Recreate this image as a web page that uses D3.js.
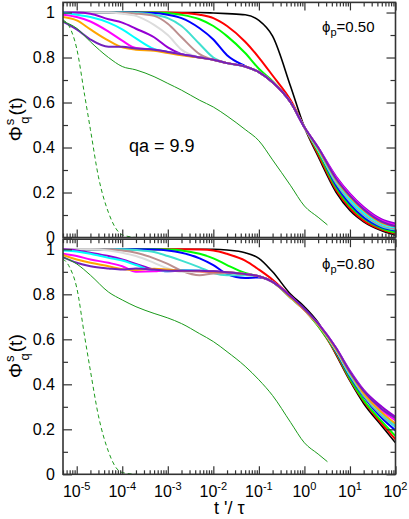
<!DOCTYPE html>
<html>
<head>
<meta charset="utf-8">
<script src="https://cdn.jsdelivr.net/npm/d3@7"></script>
<style>
  body { margin: 0; background: #fff; }
  svg { display: block; font-family: "Liberation Sans", Arial, Helvetica, sans-serif; }
</style>
</head>
<body>
<svg id="chart"></svg>
<script>
// t'/tau grid used by the coloured curves
const times = [5e-6, 1e-5, 2e-5, 5e-5, 1e-4, 2e-4, 5e-4, 1e-3, 2e-3, 5e-3, 1e-2, 2e-2, 5e-2,
               0.1, 0.2, 0.5, 1, 2, 5, 10, 20, 50, 100];
const tGreen = [5e-6, 1e-5, 2e-5, 5e-5, 1e-4, 2e-4, 5e-4, 1e-3, 2e-3, 5e-3, 1e-2, 2e-2, 5e-2,
                0.1, 0.2, 0.5, 1, 2, 3.2];
const tDash = [5e-6, 7e-6, 1e-5, 1.5e-5, 2e-5, 3e-5, 5e-5, 7e-5, 1e-4, 2e-4];

const xMajorTicks = [1e-5, 1e-4, 1e-3, 1e-2, 1e-1, 1, 10, 100];
const xTickExponents = ["-5", "-4", "-3", "-2", "-1", "0", "1", "2"];
const yMajorTicks = [0, 0.2, 0.4, 0.6, 0.8, 1];
const yTickLabels = ["0", "0.2", "0.4", "0.6", "0.8", "1"];
const yMinorTicks = [0.1, 0.3, 0.5, 0.7, 0.9];
const panelLabels = ["0.50", "0.80"];

const colors = ["#000000", "#ff0000", "#00ff00", "#0000ff", "#40e0d0", "#bc8f8f",
                "#dcdcdc", "#9400d3", "#00ffff", "#ff00ff", "#ffa500", "#7221bc"];

// phi_p = 0.50
const p50Black   = [1,1,1,1,1,1,1,1,1,1,0.998,0.995,0.99,0.965,0.895,0.67,0.49,0.36,0.20,0.12,0.07,0.03,0.01];
const p50Red     = [1,1,1,1,1,1,1,1,0.998,0.99,0.975,0.94,0.87,0.80,0.72,0.61,0.49,0.37,0.21,0.13,0.075,0.035,0.016];
const p50Green   = [1,1,1,1,1,1,1,0.998,0.99,0.97,0.94,0.895,0.82,0.75,0.695,0.60,0.49,0.38,0.22,0.14,0.085,0.04,0.022];
const p50Blue    = [1,1,1,1,1,1,0.998,0.99,0.975,0.93,0.88,0.81,0.762,0.735,0.69,0.60,0.49,0.39,0.23,0.15,0.09,0.045,0.03];
const p50Turq    = [1,1,1,1,1,0.998,0.99,0.975,0.94,0.86,0.80,0.775,0.76,0.735,0.69,0.60,0.49,0.39,0.24,0.16,0.10,0.05,0.035];
const p50Brown   = [1,1,1,1,0.998,0.995,0.985,0.95,0.89,0.815,0.79,0.775,0.76,0.735,0.69,0.60,0.49,0.39,0.245,0.165,0.105,0.055,0.04];
const p50Grey    = [1,1,1,1,0.995,0.985,0.945,0.90,0.835,0.80,0.79,0.775,0.76,0.735,0.69,0.60,0.49,0.39,0.25,0.17,0.11,0.06,0.045];
const p50Violet  = [1,1,0.995,0.97,0.955,0.928,0.89,0.845,0.815,0.80,0.79,0.775,0.76,0.735,0.69,0.60,0.49,0.40,0.27,0.195,0.135,0.08,0.062];
const p50Cyan    = [1,0.99,0.98,0.955,0.925,0.885,0.838,0.825,0.815,0.80,0.79,0.775,0.76,0.735,0.69,0.60,0.49,0.39,0.25,0.17,0.11,0.06,0.045];
const p50Magenta = [0.99,0.98,0.96,0.915,0.875,0.842,0.835,0.825,0.815,0.80,0.79,0.775,0.76,0.735,0.69,0.60,0.49,0.40,0.265,0.19,0.13,0.075,0.055];
const p50Orange  = [0.98,0.965,0.925,0.875,0.845,0.835,0.83,0.82,0.81,0.80,0.79,0.775,0.76,0.735,0.69,0.60,0.49,0.395,0.255,0.18,0.12,0.065,0.05];
const p50Indigo  = [0.96,0.925,0.88,0.848,0.848,0.84,0.835,0.825,0.815,0.80,0.79,0.775,0.76,0.735,0.69,0.60,0.49,0.40,0.26,0.185,0.125,0.07,0.05];
const p50Thin    = [0.96,0.93,0.87,0.80,0.76,0.745,0.715,0.685,0.655,0.61,0.58,0.54,0.48,0.43,0.345,0.23,0.14,0.09,0.056];
const p50Dash    = [0.967,0.935,0.84,0.63,0.48,0.27,0.11,0.045,0.012,0];

// phi_p = 0.80
const p80Black   = [1,1,1,1,1,1,1,1,1,1,1,0.997,0.985,0.96,0.90,0.80,0.745,0.675,0.53,0.415,0.315,0.215,0.14];
const p80Red     = [1,1,1,1,1,1,1,1,1,0.999,0.995,0.98,0.95,0.91,0.865,0.79,0.73,0.66,0.535,0.42,0.325,0.225,0.155];
const p80Green   = [1,1,1,1,1,1,1,0.999,0.995,0.98,0.96,0.93,0.895,0.88,0.855,0.785,0.73,0.66,0.54,0.425,0.33,0.235,0.17];
const p80Blue    = [1,1,1,1,1,1,0.999,0.995,0.985,0.96,0.93,0.89,0.873,0.875,0.855,0.785,0.73,0.665,0.545,0.435,0.345,0.25,0.195];
const p80Turq    = [1,1,1,1,1,0.997,0.988,0.97,0.95,0.92,0.895,0.885,0.885,0.88,0.855,0.785,0.73,0.665,0.55,0.44,0.35,0.26,0.21];
const p80Brown   = [1,1,1,1,0.995,0.985,0.96,0.935,0.905,0.885,0.893,0.895,0.89,0.88,0.855,0.785,0.73,0.665,0.55,0.445,0.355,0.265,0.22];
const p80Grey    = [1,1,1,0.995,0.985,0.97,0.94,0.915,0.90,0.90,0.90,0.898,0.89,0.88,0.855,0.785,0.73,0.665,0.55,0.445,0.36,0.27,0.225];
const p80Violet  = [1,0.995,0.985,0.97,0.955,0.935,0.91,0.902,0.905,0.905,0.902,0.898,0.89,0.88,0.855,0.79,0.735,0.67,0.56,0.46,0.375,0.30,0.255];
const p80Cyan    = [0.995,0.99,0.98,0.962,0.95,0.93,0.905,0.903,0.908,0.905,0.90,0.898,0.89,0.88,0.855,0.785,0.73,0.665,0.555,0.445,0.36,0.27,0.22];
const p80Magenta = [0.98,0.97,0.955,0.94,0.925,0.90,0.902,0.908,0.905,0.903,0.90,0.898,0.89,0.88,0.855,0.79,0.73,0.67,0.56,0.455,0.37,0.285,0.24];
const p80Orange  = [0.975,0.955,0.94,0.925,0.912,0.908,0.914,0.91,0.905,0.903,0.90,0.898,0.89,0.88,0.855,0.785,0.73,0.665,0.555,0.45,0.36,0.275,0.225];
const p80Indigo  = [0.965,0.94,0.925,0.915,0.91,0.915,0.91,0.905,0.905,0.905,0.902,0.898,0.89,0.88,0.855,0.79,0.735,0.67,0.56,0.455,0.37,0.29,0.25];
const p80Thin    = [0.965,0.935,0.885,0.81,0.775,0.745,0.715,0.695,0.67,0.625,0.59,0.545,0.48,0.42,0.35,0.23,0.14,0.09,0.056];
const p80Dash    = [0.958,0.92,0.83,0.61,0.46,0.26,0.10,0.035,0.008,0];

const panels = [
  {label: panelLabels[0], top: 2.4,
   curves: [p50Black, p50Red, p50Green, p50Blue, p50Turq, p50Brown, p50Grey, p50Violet, p50Cyan, p50Magenta, p50Orange, p50Indigo],
   thin: p50Thin, dash: p50Dash},
  {label: panelLabels[1], top: 239.2,
   curves: [p80Black, p80Red, p80Green, p80Blue, p80Turq, p80Brown, p80Grey, p80Violet, p80Cyan, p80Magenta, p80Orange, p80Indigo],
   thin: p80Thin, dash: p80Dash}
];

const width = 409, height = 519;
const left = 63, right = 395.5, panelH = 235.1;
const axisColor = "#333";

const svg = d3.select("#chart")
  .attr("width", width)
  .attr("height", height);

const x = d3.scaleLog().domain([5e-6, 100]).range([left, right]);
const xMinorTicks = x.ticks().filter(v => !xMajorTicks.some(m => Math.abs(v / m - 1) < 1e-6));

panels.forEach((p, i) => {
  const y = d3.scaleLinear().domain([0, 1.045]).range([p.top + panelH, p.top]);
  const bottom = p.top + panelH;
  const g = svg.append("g");

  const clipId = "clip" + i;
  svg.append("clipPath").attr("id", clipId)
    .append("rect").attr("x", left).attr("y", p.top).attr("width", right - left).attr("height", panelH);

  const line = d3.line()
    .defined(d => d[1] != null)
    .x(d => x(d[0]))
    .y(d => y(d[1]))
    .curve(d3.curveMonotoneX);

  const plot = g.append("g").attr("clip-path", `url(#${clipId})`);

  p.curves.forEach((vals, k) => {
    plot.append("path")
      .attr("d", line(times.map((t, j) => [t, vals[j]])))
      .attr("fill", "none")
      .attr("stroke", colors[k])
      .attr("stroke-width", k === 0 ? 1.6 : 2)
      .attr("stroke-linejoin", "round");
  });

  plot.append("path")
    .attr("d", line(tGreen.map((t, j) => [t, p.thin[j]])))
    .attr("fill", "none")
    .attr("stroke", "#1a9a1a")
    .attr("stroke-width", 1);

  plot.append("path")
    .attr("d", line(tDash.map((t, j) => [t, p.dash[j]])))
    .attr("fill", "none")
    .attr("stroke", "#1a9a1a")
    .attr("stroke-width", 1)
    .attr("stroke-dasharray", "4,3");

  // axes, ticks pointing inward on all four sides
  const styleAxis = sel => {
    sel.select(".domain").remove();
    sel.selectAll(".tick line").attr("stroke", axisColor).attr("stroke-width", 1.2);
  };

  g.append("g").attr("transform", `translate(0,${bottom})`)
    .call(d3.axisBottom(x).tickValues(xMajorTicks).tickSize(-8).tickFormat(""))
    .call(styleAxis);
  g.append("g").attr("transform", `translate(0,${bottom})`)
    .call(d3.axisBottom(x).tickValues(xMinorTicks).tickSize(-4).tickFormat(""))
    .call(styleAxis);
  g.append("g").attr("transform", `translate(0,${p.top})`)
    .call(d3.axisTop(x).tickValues(xMajorTicks).tickSize(-8).tickFormat(""))
    .call(styleAxis);
  g.append("g").attr("transform", `translate(0,${p.top})`)
    .call(d3.axisTop(x).tickValues(xMinorTicks).tickSize(-4).tickFormat(""))
    .call(styleAxis);

  g.append("g").attr("transform", `translate(${left},0)`)
    .call(d3.axisLeft(y).tickValues(yMajorTicks).tickSize(-9).tickPadding(8)
      .tickFormat((d, j) => yTickLabels[j]))
    .call(styleAxis)
    .call(a => a.selectAll(".tick text")
      .attr("fill", "#000").attr("font-size", 16)
      .attr("font-family", "'Liberation Sans', Arial, sans-serif"));
  g.append("g").attr("transform", `translate(${left},0)`)
    .call(d3.axisLeft(y).tickValues(yMinorTicks).tickSize(-5).tickFormat(""))
    .call(styleAxis);
  g.append("g").attr("transform", `translate(${right},0)`)
    .call(d3.axisRight(y).tickValues(yMajorTicks).tickSize(-9).tickFormat(""))
    .call(styleAxis);
  g.append("g").attr("transform", `translate(${right},0)`)
    .call(d3.axisRight(y).tickValues(yMinorTicks).tickSize(-5).tickFormat(""))
    .call(styleAxis);

  g.append("rect")
    .attr("x", left).attr("y", p.top)
    .attr("width", right - left).attr("height", panelH)
    .attr("fill", "none").attr("stroke", axisColor).attr("stroke-width", 1.6);

  // y title
  const yt = g.append("text")
    .attr("transform", `translate(22,${p.top + 117}) rotate(-90)`)
    .attr("text-anchor", "middle")
    .attr("font-size", 19);
  yt.append("tspan").text("Φ");
  yt.append("tspan").attr("font-size", 13).attr("dy", -8).attr("dx", 1).text("s");
  yt.append("tspan").attr("font-size", 13).attr("dy", 15).attr("dx", -5).text("q");
  yt.append("tspan").attr("dy", -7).attr("dx", 1).text("(t)");

  // phi_p label
  const pl = g.append("text")
    .attr("x", 322).attr("y", p.top + (i === 0 ? 30 : 30))
    .attr("font-size", 15);
  pl.append("tspan").text("ϕ");
  pl.append("tspan").attr("font-size", 11).attr("dy", 4).text("p");
  pl.append("tspan").attr("dy", -4).text("=" + p.label);

  if (i === 1) {
    const xl = g.selectAll(".xlab")
      .data(xMajorTicks)
      .enter().append("text")
      .attr("x", d => x(d))
      .attr("y", 497)
      .attr("text-anchor", "middle")
      .attr("font-size", 16);
    xl.append("tspan").text("10");
    xl.append("tspan").attr("font-size", 11).attr("dy", -7).text((d, j) => xTickExponents[j]);
  }
});

svg.append("text")
  .attr("x", 129).attr("y", 152)
  .attr("font-size", 18)
  .text("qa = 9.9");

svg.append("text")
  .attr("x", (left + right) / 2).attr("y", 514)
  .attr("text-anchor", "middle")
  .attr("font-size", 18)
  .text("t '/ τ");
</script>
</body>
</html>
